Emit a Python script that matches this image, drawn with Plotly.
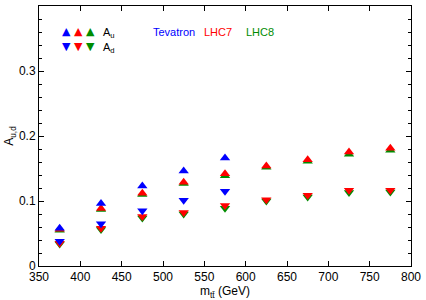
import plotly.graph_objects as go

# Bin centres (GeV)
mtt_tev = [375, 425, 475, 525, 575]
mtt_lhc = [375, 425, 475, 525, 575, 625, 675, 725, 775]

# Tevatron
tev_Au = [0.058, 0.096, 0.123, 0.146, 0.166]
tev_Ad = [0.038, 0.065, 0.085, 0.101, 0.115]

# LHC 7 TeV
lhc7_Au = [0.0565, 0.0885, 0.112, 0.129, 0.142, 0.154, 0.1635, 0.1755, 0.181]
lhc7_Ad = [0.035, 0.058, 0.076, 0.0825, 0.093, 0.102, 0.109, 0.1165, 0.1165]

# LHC 8 TeV
lhc8_Au = [0.055, 0.087, 0.110, 0.127, 0.139, 0.152, 0.161, 0.172, 0.178]
lhc8_Ad = [0.034, 0.056, 0.074, 0.080, 0.089, 0.100, 0.106, 0.113, 0.114]

BLUE = "#0000ff"
RED = "#ff0000"
GREEN = "#008c00"
MS = 9

fig = go.Figure()

def add(x, y, color, sym):
    fig.add_trace(go.Scatter(x=x, y=y, mode="markers",
                             marker=dict(symbol=sym, size=MS, color=color, line=dict(width=0)),
                             showlegend=False, hoverinfo="skip"))

add(mtt_lhc, lhc8_Au, GREEN, "triangle-up")
add(mtt_lhc, lhc8_Ad, GREEN, "triangle-down")
add(mtt_lhc, lhc7_Au, RED, "triangle-up")
add(mtt_lhc, lhc7_Ad, RED, "triangle-down")
add(mtt_tev, tev_Au, BLUE, "triangle-up")
add(mtt_tev, tev_Ad, BLUE, "triangle-down")

font = dict(family="Liberation Sans, Arial, sans-serif", size=12, color="black")
lfont = dict(family="Liberation Sans, Arial, sans-serif", size=11, color="black")

fig.update_layout(
    width=426, height=300,
    margin=dict(l=39, r=11, t=5, b=32),
    paper_bgcolor="white", plot_bgcolor="white",
    font=font,
    xaxis=dict(range=[350, 800], dtick=50, tick0=350, showline=True, linecolor="black",
               linewidth=1, mirror="allticks", ticks="inside", ticklen=5, tickcolor="black",
               showgrid=False, zeroline=False,
               title=dict(text="m<sub>tt̄</sub> (GeV)", standoff=2, font=dict(size=12))),
    yaxis=dict(range=[0, 0.4], dtick=0.1, tick0=0, showline=True, linecolor="black",
               linewidth=1, mirror="allticks", ticks="inside", ticklen=5, tickcolor="black",
               showgrid=False, zeroline=False, tickformat="~g",
               minor=dict(dtick=0.02, ticks="inside", ticklen=3, tickcolor="black", showgrid=False),
               title=dict(text="A<sub>u,d</sub>", standoff=2, font=dict(size=12))),
)

# legend-like annotations
ann = []
def sym_ann(x, y, ch, color):
    ann.append(dict(xref="paper", yref="paper", x=x, y=y, text=ch, showarrow=False,
                    font=dict(family="DejaVu Sans", size=11, color=color),
                    xanchor="center", yanchor="middle"))

# paper coords: plot area x 39..415 (376 px), y 5..268 (263 px)
def px(xp):
    return (xp - 39) / 376.0
def py(yp):
    return (268 - yp) / 263.0

for xp, c in [(67, BLUE), (79, RED), (91, GREEN)]:
    sym_ann(px(xp), py(31), "▲", c)
    sym_ann(px(xp), py(46), "▼", c)

ann.append(dict(xref="paper", yref="paper", x=px(102), y=py(32), text="A<sub>u</sub>",
                showarrow=False, xanchor="left", yanchor="middle", font=lfont))
ann.append(dict(xref="paper", yref="paper", x=px(102), y=py(47), text="A<sub>d</sub>",
                showarrow=False, xanchor="left", yanchor="middle", font=lfont))
ann.append(dict(xref="paper", yref="paper", x=px(152), y=py(31), text="Tevatron",
                showarrow=False, xanchor="left", yanchor="middle", font=dict(lfont, color=BLUE)))
ann.append(dict(xref="paper", yref="paper", x=px(204), y=py(31), text="LHC7",
                showarrow=False, xanchor="left", yanchor="middle", font=dict(lfont, color=RED)))
ann.append(dict(xref="paper", yref="paper", x=px(246), y=py(31), text="LHC8",
                showarrow=False, xanchor="left", yanchor="middle", font=dict(lfont, color=GREEN)))
fig.update_layout(annotations=ann)

fig.write_html("out.html", config={"displayModeBar": False},
               post_script="document.body.style.margin='0';document.body.style.padding='0';")
